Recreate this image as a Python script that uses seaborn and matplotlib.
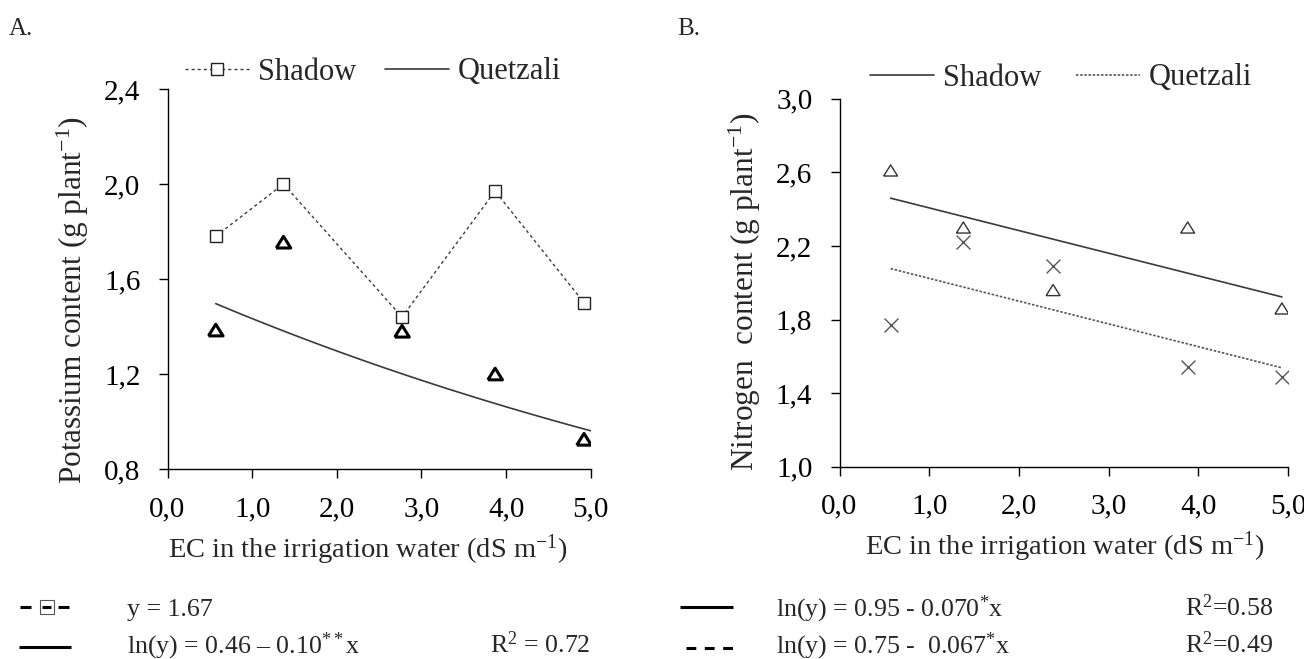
import numpy as np
import matplotlib
matplotlib.use("Agg")
import matplotlib.pyplot as plt
import seaborn as sns
from matplotlib.lines import Line2D

# ---------------- data ----------------
# Panel A : potassium content
ec_a = [0.57, 1.37, 2.77, 3.87, 4.92]
shadow_k = [1.78, 2.00, 1.44, 1.97, 1.50]
quetzali_k = [1.385, 1.755, 1.38, 1.20, 0.925]
quetzali_k_coef = [0.46, -0.10]      # ln(y) = a + b x  (fitted curve shown)
quetzali_k_xmax = 5.0

# Panel B : nitrogen content
ec_b = [0.57, 1.38, 2.38, 3.88, 4.93]
shadow_n = [2.61, 2.30, 1.96, 2.30, 1.86]
quetzali_n = [1.77, 2.22, 2.09, 1.54, 1.49]

x_ticks = [0, 1, 2, 3, 4, 5]
x_ticklabels = ["0,0", "1,0", "2,0", "3,0", "4,0", "5,0"]
a_yticks = [0.8, 1.2, 1.6, 2.0, 2.4]
a_yticklabels = ["0,8", "1,2", "1,6", "2,0", "2,4"]
b_yticks = [1.0, 1.4, 1.8, 2.2, 2.6, 3.0]
b_yticklabels = ["1,0", "1,4", "1,8", "2,2", "2,6", "3,0"]

legend_labels = ["Shadow", "Quetzali"]

# ---------------- style ----------------
sns.set_style("ticks")
plt.rcParams["font.family"] = ["Liberation Serif", "DejaVu Serif"]
plt.rcParams["mathtext.fontset"] = "custom"
plt.rcParams["mathtext.rm"] = "Liberation Serif"
plt.rcParams["mathtext.it"] = "Liberation Serif:italic"
plt.rcParams["axes.linewidth"] = 1.0
plt.rcParams["axes.edgecolor"] = "black"

W, H = 1304, 659
fig = plt.figure(figsize=(W / 100, H / 100), dpi=100)
fig.patch.set_facecolor("white")


def px(x, y):
    return (x / W, 1 - y / H)


LINE = "#3a3a3a"
tri = [(-1, -0.8), (1, -0.8), (0, 0.8), (-1, -0.8)]

axA = fig.add_axes([167.5 / W, 1 - 469 / H, 423.3 / W, 380 / H])
axB = fig.add_axes([839.5 / W, 1 - 466.7 / H, 448.7 / W, 368 / H])

# ---- Panel A ----
sns.lineplot(x=ec_a, y=shadow_k, ax=axA, color=LINE, linewidth=1.0,
             linestyle=(0, (2.2, 2.2)), marker="s", markersize=9,
             markerfacecolor="white", markeredgecolor="#222",
             markeredgewidth=1.0)
sns.scatterplot(x=ec_a, y=quetzali_k, ax=axA, marker=tri, s=10.5 ** 2,
                facecolor="none", edgecolor="black", linewidth=2.2, zorder=3)
xs = np.linspace(ec_a[0], quetzali_k_xmax, 80)
sns.lineplot(x=xs, y=np.exp(quetzali_k_coef[0] + quetzali_k_coef[1] * xs),
             ax=axA, color=LINE, linewidth=1.2)

# ---- Panel B ----
sns.regplot(x=ec_b, y=shadow_n, ax=axB, scatter=False, ci=None, truncate=True,
            line_kws=dict(color=LINE, linewidth=1.2))
sns.regplot(x=ec_b, y=quetzali_n, ax=axB, scatter=False, ci=None, truncate=True,
            line_kws=dict(color="#555", linewidth=1.2, linestyle=(0, (1.5, 1))))
sns.scatterplot(x=ec_b, y=shadow_n, ax=axB, marker=tri, s=10 ** 2,
                facecolor="none", edgecolor="#333", linewidth=1.0, zorder=3)
sns.scatterplot(x=ec_b, y=quetzali_n, ax=axB, marker="x", s=10 ** 2,
                color="#555", linewidth=1.0, zorder=3)

for ax, yt, ytl, ylim in [(axA, a_yticks, a_yticklabels, (0.8, 2.4)),
                          (axB, b_yticks, b_yticklabels, (1.0, 3.0))]:
    ax.set_xlim(0, 5)
    ax.set_ylim(*ylim)
    ax.set_xticks(x_ticks)
    ax.set_xticklabels(x_ticklabels, fontsize=21)
    ax.set_yticks(yt)
    ax.set_yticklabels(ytl, fontsize=21)
    ax.tick_params(direction="out", length=6.5, width=1.0, pad=13, colors="black")
    ax.set_xlabel("")
    ax.set_ylabel("")
    sns.despine(ax=ax)
    ax.set_facecolor("white")

# axis titles
fig.text(*px(73, 300), "Potassium content (g plant$\\mathregular{^{-1}}$)",
         rotation=90, ha="center", va="center", fontsize=22.5)
fig.text(*px(745, 292), "Nitrogen  content (g plant$\\mathregular{^{-1}}$)",
         rotation=90, ha="center", va="center", fontsize=22.5)
fig.text(*px(368, 550), "EC in the irrigation water (dS m$\\mathregular{^{-1}}$)",
         ha="center", va="center", fontsize=20.5)
fig.text(*px(1065, 547), "EC in the irrigation water (dS m$\\mathregular{^{-1}}$)",
         ha="center", va="center", fontsize=20.5)

# panel letters
fig.text(*px(9, 35), "A.", ha="left", va="baseline", fontsize=18)
fig.text(*px(677, 35), "B.", ha="left", va="baseline", fontsize=18)

# legends
hA = [Line2D([], [], color=LINE, lw=1.0, ls=(0, (2.2, 2.2)), marker="s", ms=9,
             mfc="white", mec="#222", mew=1.0),
      Line2D([], [], color=LINE, lw=1.2)]
fig.legend(hA, legend_labels, ncol=2, frameon=False, fontsize=22,
           handlelength=2.1, handletextpad=0.27, columnspacing=0.95,
           loc="center", bbox_to_anchor=px(373, 72), borderpad=0.1)
hB = [Line2D([], [], color=LINE, lw=1.2),
      Line2D([], [], color="#555", lw=1.2, ls=(0, (1.5, 1)))]
fig.legend(hB, legend_labels, ncol=2, frameon=False, fontsize=22,
           handlelength=2.1, handletextpad=0.27, columnspacing=1.15,
           loc="center", bbox_to_anchor=px(1061, 78), borderpad=0.1)

# equation-row key symbols
def seg(x0, x1, y, **kw):
    (fx0, fy), (fx1, _) = px(x0, y), px(x1, y)
    fig.add_artist(Line2D([fx0, fx1], [fy, fy], transform=fig.transFigure,
                          solid_capstyle="butt", dash_capstyle="butt", **kw))

ROW1, ROW2 = 607, 647
seg(19.6, 31, ROW1, color="black", lw=2.2)
seg(58, 69, ROW1, color="black", lw=2.2)
fig.add_artist(Line2D([px(46.5, ROW1)[0]], [px(46.5, ROW1)[1]],
                      transform=fig.transFigure, marker="s", ms=10.5,
                      mfc="white", mec="#555", mew=0.8, ls="none"))
seg(42, 51, ROW1, color="black", lw=2.2)
seg(18.8, 70.8, ROW2, color="black", lw=2.2)
seg(680, 732.6, ROW1, color="black", lw=2.2)
seg(685.6, 732.6, ROW2 + 1, color="black", lw=2.2, ls=(0, (3.2, 2.8)))

EQ = 18.6
B1, B2 = 616, 653
fig.text(*px(127, B1), "y = 1.67", ha="left", va="baseline", fontsize=EQ)
fig.text(*px(127, B2), "ln(y) = 0.46 \u2013 0.10$\\mathregular{^{**}}$x",
         ha="left", va="baseline", fontsize=EQ)
fig.text(*px(489.6, B2), "R$\\mathregular{^{2}}$ = 0.72", ha="left",
         va="baseline", fontsize=EQ)
fig.text(*px(775.8, B1), "ln(y) = 0.95 - 0.070$\\mathregular{^{*}}$x",
         ha="left", va="baseline", fontsize=EQ)
fig.text(*px(775.8, B2), "ln(y) = 0.75 -  0.067$\\mathregular{^{*}}$x",
         ha="left", va="baseline", fontsize=EQ)
fig.text(*px(1184.6, B1), "R$\\mathregular{^{2}}$=0.58", ha="left",
         va="baseline", fontsize=EQ)
fig.text(*px(1184.6, B2), "R$\\mathregular{^{2}}$=0.49", ha="left",
         va="baseline", fontsize=EQ)

fig.savefig("out.png", dpi=100, facecolor="white")
